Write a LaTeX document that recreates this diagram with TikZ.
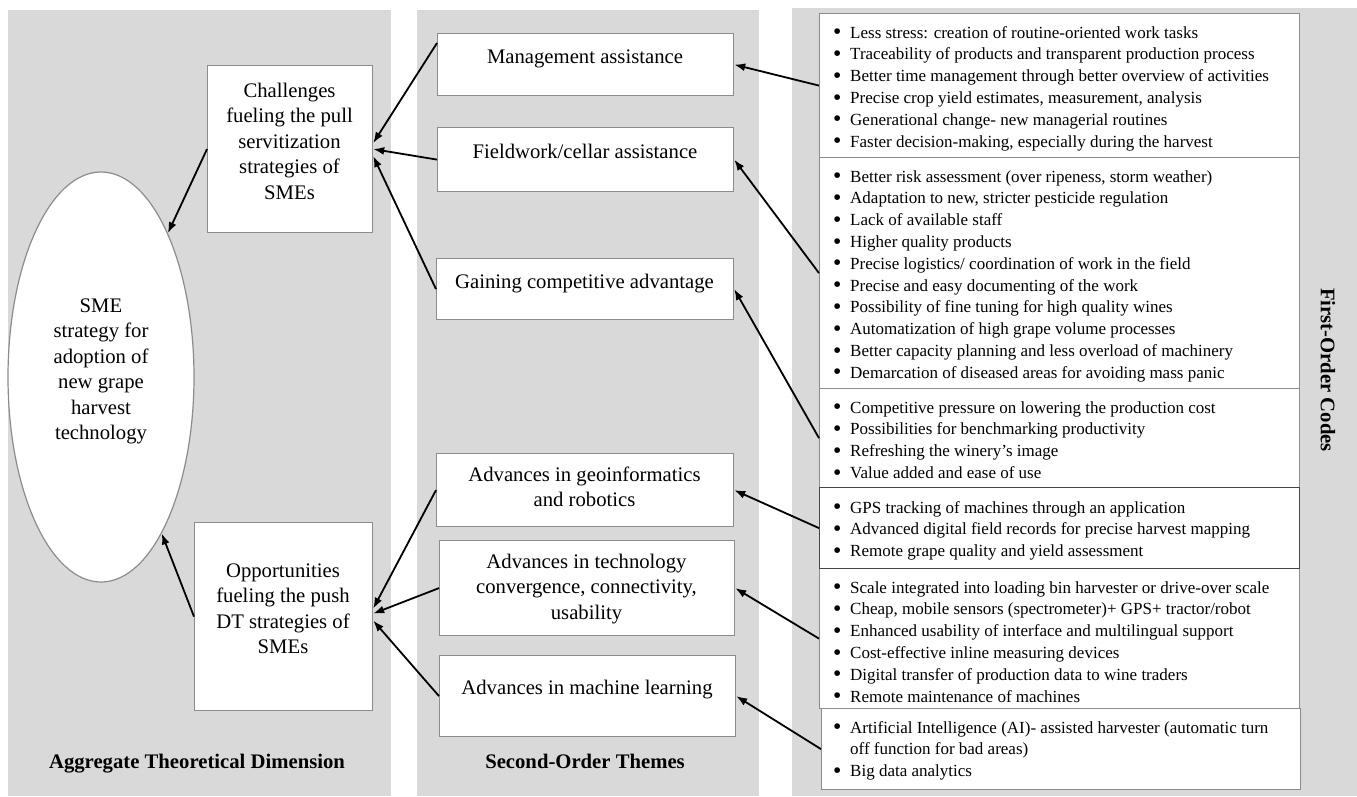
\documentclass[tikz,border=0pt]{standalone}
\usepackage{graphicx}
\usepackage{fontspec}
\setmainfont{Liberation Serif}
\usetikzlibrary{arrows.meta,shapes.geometric,calc}
\definecolor{panelgray}{RGB}{217,217,217}
\definecolor{boxline}{RGB}{140,140,140}
\definecolor{darkline}{RGB}{70,70,70}
\newcommand\codefont{\fontsize{17}{21.8}\selectfont}
\newcommand\themefont{\fontsize{20.7}{25.4}\selectfont}
\newcommand\labfont{\bfseries\fontsize{20.7}{25}\selectfont}
\newcommand\bigbullet{\raisebox{-0.1em}{\scalebox{1.4}{\textbullet}}}
\newcommand\cl[1]{\hbox{\hspace*{14pt}\makebox[17pt][l]{\bigbullet}#1}}
\newcommand\cc[1]{\hbox{\hspace*{31pt}#1}}
\newcommand\codelines[1]{\vtop{\codefont\baselineskip=21.8pt #1}}
\newcommand\mlines[1]{\begin{tabular}[t]{@{}c@{}}#1\end{tabular}}
\begin{document}
\begin{tikzpicture}[x=1pt,y=-1pt,
  panel/.style={fill=panelgray,draw=none},
  tbox/.style={draw=boxline,line width=1.2pt,fill=white,rectangle,inner sep=0pt,anchor=north west},
  ttext/.style={inner sep=0pt,anchor=base,font=\themefont},
  ctext/.style={inner sep=0pt,anchor=base west},
  lab/.style={inner sep=0pt,anchor=base,font=\labfont},
  arr/.style={draw=black,line width=1.8pt,-{Latex[length=11pt,width=8pt]}}]
\useasboundingbox (0,0) rectangle (1357,796);
% panels
\fill[panel] (8,10) rectangle (391,796);
\fill[panel] (417,10) rectangle (759,796);
\fill[panel] (792,8) rectangle (1357,796);
% aggregate dimension
\node[ellipse,draw=boxline,line width=1.2pt,fill=white,minimum width=186pt,minimum height=410pt,inner sep=0pt] (ell) at (101,377) {};
\node[ttext] (ellt) at (101,312.5) {\mlines{SME\\strategy for\\adoption of\\new grape\\harvest\\technology}};
\node[tbox,minimum width=165pt,minimum height=167pt] (ch) at (207,65) {};
\node[ttext] (cht) at (289.5,97.5) {\mlines{Challenges\\fueling the pull\\servitization\\strategies of\\SMEs}};
\node[tbox,minimum width=178pt,minimum height=188pt] (op) at (194,522) {};
\node[ttext] (opt) at (283,577.5) {\mlines{Opportunities\\fueling the push\\DT strategies of\\SMEs}};
% second-order themes
\node[tbox,minimum width=296pt,minimum height=62pt] (m) at (437,33) {};
\node[ttext] (mt) at (585,63.5) {Management assistance};
\node[tbox,minimum width=296pt,minimum height=64pt] (f) at (437,127) {};
\node[ttext] (ft) at (585,158.5) {Fieldwork/cellar assistance};
\node[tbox,minimum width=297pt,minimum height=61pt] (g) at (436,258) {};
\node[ttext] (gt) at (584.5,288.5) {Gaining competitive advantage};
\node[tbox,minimum width=297pt,minimum height=73pt] (geo) at (436,453) {};
\node[ttext] (geot) at (584.5,481.5) {\mlines{Advances in geoinformatics\\and robotics}};
\node[tbox,minimum width=295pt,minimum height=95pt] (tech) at (439,540) {};
\node[ttext] (techt) at (586.5,568.5) {\mlines{Advances in technology\\convergence, connectivity,\\usability}};
\node[tbox,minimum width=296pt,minimum height=81pt] (ml) at (439,655) {};
\node[ttext] (mlt) at (587,694.5) {Advances in machine learning};
% first-order codes
\node[tbox,minimum width=480pt,minimum height=144pt] (c1) at (819,13) {};
\node[tbox,minimum width=480pt,minimum height=231pt] (c2) at (819,157) {};
\node[tbox,minimum width=480pt,minimum height=99pt] (c3) at (819,388) {};
\node[tbox,minimum width=480pt,minimum height=140pt] (c5) at (819,568) {};
\node[tbox,minimum width=479pt,minimum height=81pt] (c6) at (821,708) {};
\node[tbox,draw=darkline,minimum width=480pt,minimum height=81pt] (c4) at (819,487) {};
\node[ctext] (c1t) at (819,38) {\codelines{%
\cl{Less stress: creation of routine-oriented work tasks}
\cl{Traceability of products and transparent production process}
\cl{Better time management through better overview of activities}
\cl{Precise crop yield estimates, measurement, analysis}
\cl{Generational change- new managerial routines}
\cl{Faster decision-making, especially during the harvest}}};
\node[ctext] (c2t) at (819,182) {\codelines{%
\cl{Better risk assessment (over ripeness, storm weather)}
\cl{Adaptation to new, stricter pesticide regulation}
\cl{Lack of available staff}
\cl{Higher quality products}
\cl{Precise logistics/ coordination of work in the field}
\cl{Precise and easy documenting of the work}
\cl{Possibility of fine tuning for high quality wines}
\cl{Automatization of high grape volume processes}
\cl{Better capacity planning and less overload of machinery}
\cl{Demarcation of diseased areas for avoiding mass panic}}};
\node[ctext] (c3t) at (819,413) {\codelines{%
\cl{Competitive pressure on lowering the production cost}
\cl{Possibilities for benchmarking productivity}
\cl{Refreshing the winery’s image}
\cl{Value added and ease of use}}};
\node[ctext] (c4t) at (819,513) {\codelines{%
\cl{GPS tracking of machines through an application}
\cl{Advanced digital field records for precise harvest mapping}
\cl{Remote grape quality and yield assessment}}};
\node[ctext] (c5t) at (819,593) {\codelines{%
\cl{Scale integrated into loading bin harvester or drive-over scale}
\cl{Cheap, mobile sensors (spectrometer)+ GPS+ tractor/robot}
\cl{Enhanced usability of interface and multilingual support}
\cl{Cost-effective inline measuring devices}
\cl{Digital transfer of production data to wine traders}
\cl{Remote maintenance of machines}}};
\node[ctext] (c6t) at (819,733) {\codelines{%
\cl{Artificial Intelligence (AI)- assisted harvester (automatic turn}
\cc{off function for bad areas)}
\cl{Big data analytics}}};
% column labels
\node[lab] (l1) at (197,768) {Aggregate Theoretical Dimension};
\node[lab] (l2) at (585,768) {Second-Order Themes};
\node[inner sep=0pt,font=\labfont,rotate=-90] (l3) at (1328,370) {First-Order Codes};
% connectors: first-order to second-order
\draw[arr] (c1.west) -- (m.east);
\draw[arr] (c2.west) -- (f.east);
\draw[arr] (c3.west) -- (g.east);
\draw[arr] (c4.west) -- (geo.east);
\draw[arr] (c5.west) -- (tech.east);
\draw[arr] (c6.west) -- (ml.east);
% second-order to aggregate
\draw[arr] ($(m.north west)+(0,10)$) -- ($(ch.east)+(0,-6)$);
\draw[arr] (f.west) -- (ch.east);
\draw[arr] (g.west) -- ($(ch.east)+(0,7)$);
\draw[arr] (geo.west) -- ($(op.east)+(0,-8)$);
\draw[arr] (tech.west) -- ($(op.east)+(0,-3)$);
\draw[arr] (ml.west) -- ($(op.east)+(0,4)$);
% aggregate to core
\draw[arr] (ch.west) -- (ell);
\draw[arr] (op.west) -- (ell);
\end{tikzpicture}
\end{document}
